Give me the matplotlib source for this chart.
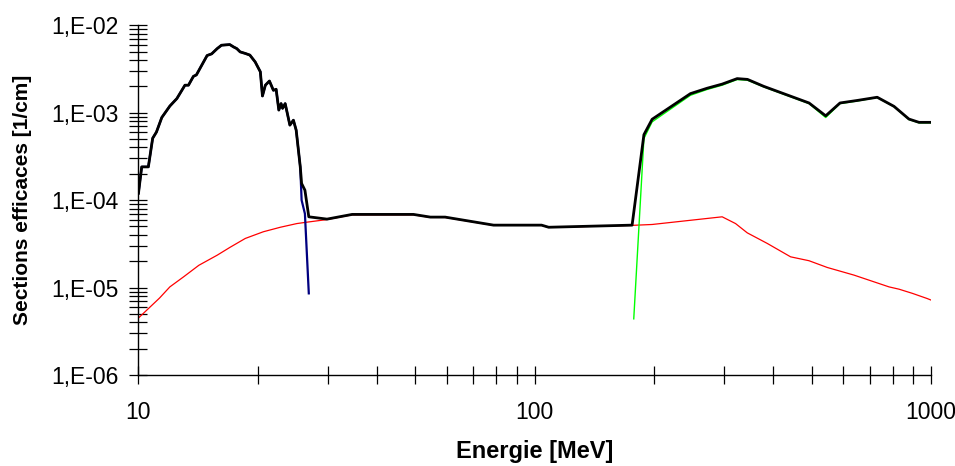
import matplotlib
matplotlib.use("Agg")
import matplotlib.pyplot as plt
from matplotlib.ticker import LogLocator, FixedLocator, FixedFormatter, NullFormatter

plt.rcParams['font.family'] = ['Liberation Sans', 'DejaVu Sans']

# low energy component (blue)
blue_e = [10.0, 10.19, 10.59, 10.86, 11.1, 11.45, 12.0, 12.5, 13.1, 13.37, 13.76, 14.0,
          14.9, 15.3, 15.8, 16.2, 17.0, 17.36, 17.7, 18.05, 18.6, 19.1, 19.7, 20.3,
          20.55, 20.9, 21.4, 21.9, 22.25, 22.6, 22.9, 23.1, 23.45, 23.7, 24.1, 24.6,
          25.0, 25.6, 25.8, 26.3, 26.9]
blue_s = [1.2e-4, 2.4e-4, 2.4e-4, 5.1e-4, 6.0e-4, 8.8e-4, 1.19e-3, 1.45e-3, 2.06e-3, 2.06e-3,
          2.6e-3, 2.7e-3, 4.5e-3, 4.7e-3, 5.4e-3, 5.9e-3, 6.0e-3, 5.65e-3, 5.4e-3, 4.95e-3,
          4.75e-3, 4.55e-3, 3.8e-3, 2.93e-3, 1.55e-3, 2.06e-3, 2.3e-3, 1.8e-3, 1.85e-3,
          1.07e-3, 1.27e-3, 1.12e-3, 1.27e-3, 1.02e-3, 7.2e-4, 8.2e-4, 6.3e-4, 2.4e-4,
          1.0e-4, 7.0e-5, 8.6e-6]

# continuum component (red)
red_e = [10.0, 11.3, 12.0, 13.0, 14.2, 15.8, 17.0, 18.6, 20.65, 22.8, 25.1, 26.6, 29.9,
         34.6, 49.4, 54.5, 59.4, 78.7, 104, 108.4, 176, 197.7, 297, 321, 343.6, 386, 442,
         492, 547, 639, 783, 830, 897, 978, 1000]
red_s = [4.5e-6, 7.6e-6, 1.02e-5, 1.33e-5, 1.8e-5, 2.35e-5, 2.88e-5, 3.65e-5, 4.35e-5,
         4.9e-5, 5.4e-5, 5.6e-5, 6.0e-5, 6.8e-5, 6.8e-5, 6.35e-5, 6.35e-5, 5.15e-5, 5.15e-5,
         4.88e-5, 5.15e-5, 5.27e-5, 6.45e-5, 5.4e-5, 4.23e-5, 3.2e-5, 2.25e-5, 2.03e-5,
         1.7e-5, 1.39e-5, 1.02e-5, 9.6e-6, 8.6e-6, 7.5e-6, 7.2e-6]

# high energy component (green)
green_e = [177.7, 188.5, 197.7, 247, 272, 297, 324, 344, 378, 492, 542, 589, 652, 731,
           806, 879, 932, 1000]
green_s = [4.4e-6, 5.07e-4, 7.85e-4, 1.58e-3, 1.84e-3, 2.06e-3, 2.39e-3, 2.35e-3, 1.97e-3,
           1.27e-3, 8.8e-4, 1.27e-3, 1.36e-3, 1.49e-3, 1.17e-3, 8.35e-4, 7.65e-4, 7.65e-4]

# total (black)
total_e = blue_e[:38] + [25.8, 26.3, 26.9, 29.9, 34.6, 49.4, 54.5, 59.4, 78.7, 104, 108.4,
                         176, 188.5, 197.7, 247, 272, 297, 324, 344, 378, 492, 542, 589,
                         652, 731, 806, 879, 932, 1000]
total_s = blue_s[:38] + [1.55e-4, 1.3e-4, 6.45e-5, 6.07e-5, 6.87e-5, 6.87e-5, 6.4e-5, 6.4e-5,
                         5.18e-5, 5.18e-5, 4.9e-5, 5.18e-5, 5.6e-4, 8.4e-4, 1.65e-3, 1.9e-3,
                         2.12e-3, 2.45e-3, 2.4e-3, 2.0e-3, 1.29e-3, 9.2e-4, 1.29e-3, 1.38e-3,
                         1.5e-3, 1.18e-3, 8.45e-4, 7.75e-4, 7.75e-4]

y_ticks = [1e-6, 1e-5, 1e-4, 1e-3, 1e-2]
y_labels = ['1,E-06', '1,E-05', '1,E-04', '1,E-03', '1,E-02']
x_ticks = [10, 100, 1000]
x_labels = ['10', '100', '1000']

fig = plt.figure(figsize=(9.55, 4.66), dpi=100)
ax = fig.add_axes([0.145, 0.195, 0.83, 0.751])

ax.plot(red_e, red_s, color='#ff0000', lw=0.9)
ax.plot(green_e, green_s, color='#00ff00', lw=1.0)
ax.plot(blue_e, blue_s, color='#000080', lw=1.6)
ax.plot(total_e, total_s, color='black', lw=2.0)

ax.set_xscale('log')
ax.set_yscale('log')
ax.set_xlim(10, 1000)
ax.set_ylim(1e-6, 1e-2)

ax.yaxis.set_major_locator(FixedLocator(y_ticks))
ax.yaxis.set_major_formatter(FixedFormatter(y_labels))
ax.yaxis.set_minor_locator(LogLocator(base=10, subs=range(2, 10), numticks=20))
ax.yaxis.set_minor_formatter(NullFormatter())
ax.xaxis.set_major_locator(FixedLocator(x_ticks))
ax.xaxis.set_major_formatter(FixedFormatter(x_labels))
ax.xaxis.set_minor_locator(LogLocator(base=10, subs=range(2, 10), numticks=20))
ax.xaxis.set_minor_formatter(NullFormatter())

for s in ['top', 'right']:
    ax.spines[s].set_visible(False)
for s in ['left', 'bottom']:
    ax.spines[s].set_linewidth(1.0)

ax.tick_params(axis='both', which='both', direction='inout', length=13, width=0.9,
               labelsize=16.5)
ax.tick_params(axis='y', which='both', pad=8)
ax.tick_params(axis='x', which='both', pad=12)

ax.set_xlabel('Energie [MeV]', fontsize=17, fontweight='bold', labelpad=12)
ax.set_ylabel('Sections efficaces [1/cm]', fontsize=15, fontweight='bold', labelpad=14)

fig.savefig('out.png', dpi=100)
